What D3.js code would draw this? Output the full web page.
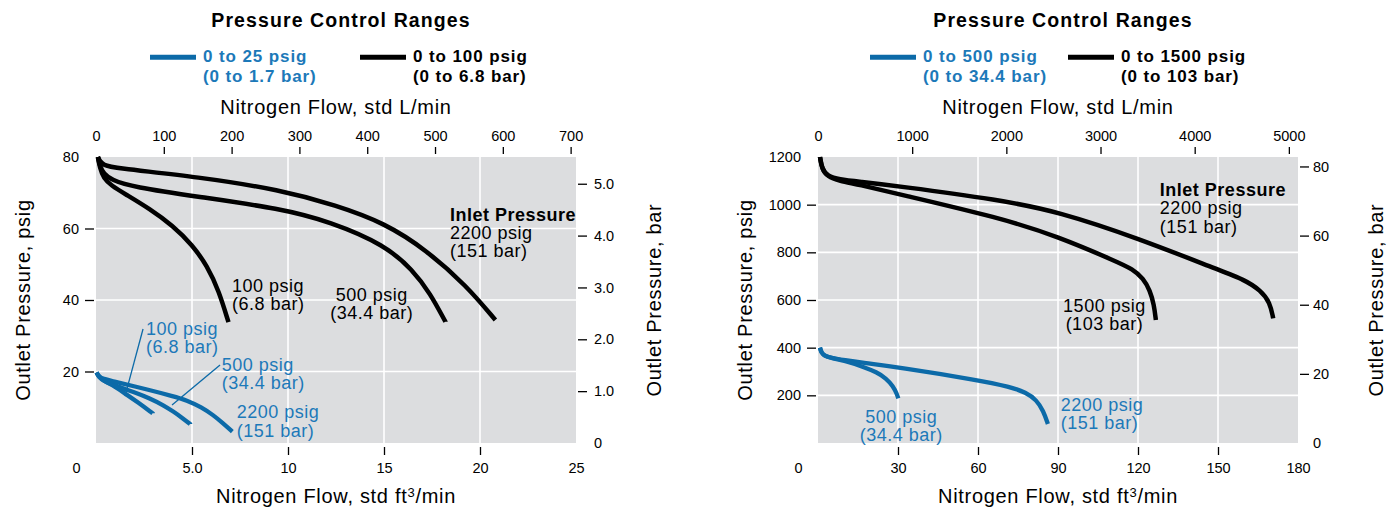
<!DOCTYPE html>
<html>
<head>
<meta charset="utf-8">
<script src="https://cdn.jsdelivr.net/npm/d3@7"></script>
<style>
  body { margin: 0; background: #fff; }
  svg { display: block; font-family: "Liberation Sans", Arial, Helvetica, sans-serif; }
</style>
</head>
<body>
<svg width="1396" height="510"></svg>
<script>
'use strict'

var LPM_PER_CFM = 28.317,
  PSI_PER_BAR = 14.504;

// ---- left panel: 0-25 / 0-100 psig regulators ----
var lowCfmTicks = [0, 5, 10, 15, 20, 25];
var lowCfmLabels = ["0", "5.0", "10", "15", "20", "25"];
var lowLpmTicks = [0, 100, 200, 300, 400, 500, 600, 700];
var lowPsigTicks = [20, 40, 60, 80];
var lowBarTicks = [0, 1, 2, 3, 4, 5];
var lowBarLabels = ["0", "1.0", "2.0", "3.0", "4.0", "5.0"];
var lowLegend = [["0 to 25 psig", "(0 to 1.7 bar)"], ["0 to 100 psig", "(0 to 6.8 bar)"]];

// [cfm, psig]
var lowBlack100 = [[0.1, 80], [0.2, 77], [0.4, 74], [0.8, 72], [1.5, 69.7], [2.8, 65.5], [4.0, 60.8], [5.0, 55.5], [5.8, 49.5], [6.4, 42.5], [6.9, 33.8], [6.9, 33.8]];
var lowBlack500 = [[0.1, 80], [0.2, 77.5], [0.4, 75.3], [0.8, 73.6], [1.9, 71.6], [5.4, 68.8], [9.6, 65.6], [12.2, 61.9], [15.05, 55.4], [16.5, 48.4], [17.4, 41.9], [18.2, 33.9], [18.2, 33.9]];
var lowBlack2200 = [[0.1, 80], [0.2, 78.8], [0.4, 77.8], [0.8, 77], [5.4, 74.4], [9.6, 70.8], [12.5, 66.5], [15.05, 61.5], [17.2, 54], [19.3, 44], [20.8, 34.4], [20.8, 34.4]];
var lowBlue100 = [[0.03, 19.7], [0.15, 18.4], [0.4, 17.4], [0.8, 16.4], [1.5, 13.9], [2.2, 11.3], [2.95, 8.3], [2.95, 8.3]];
var lowBlue500 = [[0.03, 19.7], [0.15, 18.5], [0.45, 17.2], [1.08, 15.9], [2, 14.2], [2.81, 12.5], [3.5, 10.6], [4.03, 8.8], [4.5, 7], [4.9, 5.3], [4.9, 5.3]];
var lowBlue2200 = [[0.03, 19.7], [0.15, 18.6], [0.4, 17.9], [0.73, 17.5], [2.81, 14.8], [4.0, 13.1], [4.72, 12], [5.5, 10], [6.11, 7.8], [6.6, 5.6], [7.1, 3.2], [7.1, 3.2]];

var lowLabels = [
  { lines: ["100 psig", "(6.8 bar)"], at: [7.08, 42.2], anchor: "start", blue: false },
  { lines: ["500 psig", "(34.4 bar)"], at: [14.36, 39.7], anchor: "middle", blue: false },
  { lines: ["Inlet Pressure", "2200 psig", "(151 bar)"], at: [18.44, 62.2], anchor: "start", blue: false, head: true },
  { lines: ["100 psig", "(6.8 bar)"], at: [2.6, 30.2], anchor: "start", blue: true },
  { lines: ["500 psig", "(34.4 bar)"], at: [6.55, 20.2], anchor: "start", blue: true },
  { lines: ["2200 psig", "(151 bar)"], at: [7.33, 6.9], anchor: "start", blue: true }
];
var lowLeaders = [[[2.45, 31.9], [1.51, 13.1]], [[6.46, 21.8], [3.96, 10.6]]];

// ---- right panel: 0-500 / 0-1500 psig regulators ----
var highCfmTicks = [0, 30, 60, 90, 120, 150, 180];
var highCfmLabels = ["0", "30", "60", "90", "120", "150", "180"];
var highLpmTicks = [0, 1000, 2000, 3000, 4000, 5000];
var highPsigTicks = [200, 400, 600, 800, 1000, 1200];
var highBarTicks = [0, 20, 40, 60, 80];
var highBarLabels = ["0", "20", "40", "60", "80"];
var highLegend = [["0 to 500 psig", "(0 to 34.4 bar)"], ["0 to 1500 psig", "(0 to 103 bar)"]];

var highBlack1500 = [[0.75, 1200], [1.5, 1150], [3.5, 1118], [8, 1100], [15, 1085], [30, 1045], [68.2, 945], [90.1, 866], [112, 761], [118, 730], [122, 690], [124.5, 640], [126, 580], [126.7, 516], [126.7, 516]];
var highBlack2200 = [[0.75, 1200], [1.5, 1150], [3.5, 1120], [8, 1106], [15, 1097], [30, 1078], [68.2, 1020], [90.1, 971], [120.1, 859], [150, 727], [160, 685], [166, 640], [169.5, 590], [170.7, 523], [170.7, 523]];
var highBlue500 = [[0.75, 400], [1.3, 378], [2.5, 366], [4.5, 358], [10, 345], [17, 320], [22, 297], [25.5, 272], [28.2, 238], [29.6, 205], [30.1, 187], [30.1, 187]];
var highBlue2200 = [[0.75, 400], [1.3, 378], [2.5, 366], [4.5, 358], [10, 348], [17, 336], [30, 318], [60, 264], [72, 236], [78, 212], [82, 180], [84.5, 135], [86.2, 80], [86.2, 80]];

var highLabels = [
  { lines: ["Inlet Pressure", "2200 psig", "(151 bar)"], at: [128.2, 1036], anchor: "start", blue: false, head: true },
  { lines: ["1500 psig", "(103 bar)"], at: [107.4, 551], anchor: "middle", blue: false },
  { lines: ["500 psig", "(34.4 bar)"], at: [31.2, 85], anchor: "middle", blue: true },
  { lines: ["2200 psig", "(151 bar)"], at: [91, 135.5], anchor: "start", blue: true }
];

var BLUE = "#0c6aa8",
  BLUE_TEXT = "#1c79b9",
  PLOT_BG = "#dcdddf";

var svg = d3.select("svg");
var TOP = 157, BOTTOM = 443, PW = 480;

var panels = [
  { left: 96, cfmTicks: lowCfmTicks, cfmLabels: lowCfmLabels, lpmTicks: lowLpmTicks, psigTicks: lowPsigTicks,
    barTicks: lowBarTicks, barLabels: lowBarLabels, barPad: 7, legend: lowLegend, legendX: [54, 264],
    curves: [[lowBlack100, "#000"], [lowBlack500, "#000"], [lowBlack2200, "#000"], [lowBlue100, BLUE], [lowBlue500, BLUE], [lowBlue2200, BLUE]],
    labels: lowLabels, leaders: lowLeaders },
  { left: 818, cfmTicks: highCfmTicks, cfmLabels: highCfmLabels, lpmTicks: highLpmTicks, psigTicks: highPsigTicks,
    barTicks: highBarTicks, barLabels: highBarLabels, barPad: 4, legend: highLegend, legendX: [52, 250],
    curves: [[highBlack1500, "#000"], [highBlack2200, "#000"], [highBlue500, BLUE], [highBlue2200, BLUE]],
    labels: highLabels, leaders: [] }
];

panels.forEach(drawPanel);

function styleAxis(g, hideLine) {
  g.attr("font-family", null).attr("font-size", null);
  g.select(".domain").remove();
  g.selectAll(".tick line").attr("stroke", "#000").attr("stroke-width", 1.3);
  g.selectAll(".tick text").attr("fill", "#000").style("font-size", "14.5px");
  g.selectAll(".tick").filter(hideLine).select("line").remove();
}

function drawPanel(p) {
  var cfmMax = p.cfmTicks[p.cfmTicks.length - 1],
    psigMax = p.psigTicks[p.psigTicks.length - 1];

  var x = d3.scaleLinear().domain([0, cfmMax]).range([p.left, p.left + PW]),
    xl = d3.scaleLinear().domain([0, cfmMax * LPM_PER_CFM]).range(x.range()),
    y = d3.scaleLinear().domain([0, psigMax]).range([BOTTOM, TOP]),
    yb = d3.scaleLinear().domain([0, psigMax / PSI_PER_BAR]).range(y.range());

  var g = svg.append("g");

  g.append("rect")
    .attr("x", x(0)).attr("y", y(psigMax))
    .attr("width", x(cfmMax) - x(0)).attr("height", y(0) - y(psigMax))
    .attr("fill", PLOT_BG);

  // white grid
  g.selectAll(".vgrid")
    .data(p.cfmTicks.slice(1, -1))
    .enter().append("line")
    .attr("x1", function(d) { return x(d); }).attr("x2", function(d) { return x(d); })
    .attr("y1", y(0)).attr("y2", y(psigMax))
    .attr("stroke", "#fff").attr("stroke-width", 1.6);
  g.selectAll(".hgrid")
    .data(p.psigTicks.slice(0, -1))
    .enter().append("line")
    .attr("y1", function(d) { return y(d); }).attr("y2", function(d) { return y(d); })
    .attr("x1", x(0)).attr("x2", x(cfmMax))
    .attr("stroke", "#fff").attr("stroke-width", 1.6);

  // axes
  g.append("g")
    .attr("transform", "translate(0," + (TOP - 3) + ")")
    .call(d3.axisTop(xl).tickValues(p.lpmTicks).tickSize(7).tickPadding(6).tickFormat(d3.format("d")))
    .call(styleAxis, function(d) { return d === 0; });

  var bottomAxis = g.append("g")
    .attr("transform", "translate(0," + (BOTTOM + 4) + ")")
    .call(d3.axisBottom(x).tickValues(p.cfmTicks).tickSize(8).tickPadding(8)
      .tickFormat(function(d, i) { return p.cfmLabels[i]; }))
    .call(styleAxis, function(d) { return d === 0 || d === cfmMax; });
  bottomAxis.selectAll(".tick").filter(function(d) { return d === 0; })
    .select("text").attr("x", -20);

  g.append("g")
    .attr("transform", "translate(" + (x(0) - 2) + ",0)")
    .call(d3.axisLeft(y).tickValues(p.psigTicks).tickSize(9).tickPadding(6).tickFormat(d3.format("d")))
    .call(styleAxis, function(d) { return d === psigMax; });

  g.append("g")
    .attr("transform", "translate(" + (x(cfmMax) + 2) + ",0)")
    .call(d3.axisRight(yb).tickValues(p.barTicks).tickSize(9).tickPadding(p.barPad)
      .tickFormat(function(d, i) { return p.barLabels[i]; }))
    .call(styleAxis, function(d) { return d === 0; });

  // curves
  var line = d3.line()
    .curve(d3.curveBasis)
    .x(function(d) { return x(d[0]); })
    .y(function(d) { return y(d[1]); });

  g.selectAll(".curve")
    .data(p.curves)
    .enter().append("path")
    .attr("d", function(d) { return line(d[0]); })
    .attr("fill", "none")
    .attr("stroke", function(d) { return d[1]; })
    .attr("stroke-width", function(d) { return d[1] === BLUE ? 4.3 : 4.5; });

  g.selectAll(".leader")
    .data(p.leaders)
    .enter().append("line")
    .attr("x1", function(d) { return x(d[0][0]); }).attr("y1", function(d) { return y(d[0][1]); })
    .attr("x2", function(d) { return x(d[1][0]); }).attr("y2", function(d) { return y(d[1][1]); })
    .attr("stroke", BLUE).attr("stroke-width", 1.3);

  // curve labels
  p.labels.forEach(function(lb) {
    var t = g.append("text")
      .attr("x", x(lb.at[0])).attr("y", y(lb.at[1]))
      .attr("text-anchor", lb.anchor)
      .attr("fill", lb.blue ? BLUE_TEXT : "#000")
      .style("font-size", "18px")
      .style("letter-spacing", "0.5px");
    lb.lines.forEach(function(s, i) {
      t.append("tspan")
        .attr("x", x(lb.at[0]))
        .attr("dy", i === 0 ? 0 : 18.3)
        .attr("font-weight", lb.head && i === 0 ? "bold" : null)
        .text(s);
    });
  });

  // title and legend
  var mid = p.left + 245;
  svg.append("text")
    .attr("x", mid).attr("y", 26.5)
    .attr("text-anchor", "middle")
    .attr("font-weight", "bold")
    .style("font-size", "19.5px")
    .style("letter-spacing", "1.1px")
    .text("Pressure Control Ranges");

  p.legend.forEach(function(item, i) {
    var lx = p.left + p.legendX[i],
      col = i === 0 ? BLUE : "#000";
    svg.append("line")
      .attr("x1", lx).attr("x2", lx + 46)
      .attr("y1", 57.3).attr("y2", 57.3)
      .attr("stroke", col).attr("stroke-width", 5);
    var t = svg.append("text")
      .attr("x", lx + 53).attr("y", 61.8)
      .attr("font-weight", "bold")
      .attr("fill", i === 0 ? BLUE_TEXT : "#000")
      .style("font-size", "17px")
      .style("letter-spacing", "0.9px");
    item.forEach(function(s, j) {
      t.append("tspan").attr("x", lx + 53).attr("dy", j === 0 ? 0 : 20).text(s);
    });
  });

  // axis titles
  var titleStyle = function(sel) {
    sel.style("font-size", "20px").style("letter-spacing", "0.7px").attr("text-anchor", "middle");
  };
  svg.append("text")
    .attr("x", p.left + 240).attr("y", 114)
    .call(titleStyle)
    .text("Nitrogen Flow, std L/min");

  var bt = svg.append("text")
    .attr("x", p.left + 240).attr("y", 503)
    .call(titleStyle);
  bt.append("tspan").text("Nitrogen Flow, std ft");
  bt.append("tspan").attr("dy", -6).style("font-size", "13px").text("3");
  bt.append("tspan").attr("dy", 6).text("/min");

  svg.append("text")
    .attr("transform", "translate(" + (p.left - 66) + ",300) rotate(-90)")
    .call(titleStyle)
    .text("Outlet Pressure, psig");
  svg.append("text")
    .attr("transform", "translate(" + (p.left + PW + 85) + ",300) rotate(-90)")
    .call(titleStyle)
    .text("Outlet Pressure, bar");
}
</script>
</body>
</html>
